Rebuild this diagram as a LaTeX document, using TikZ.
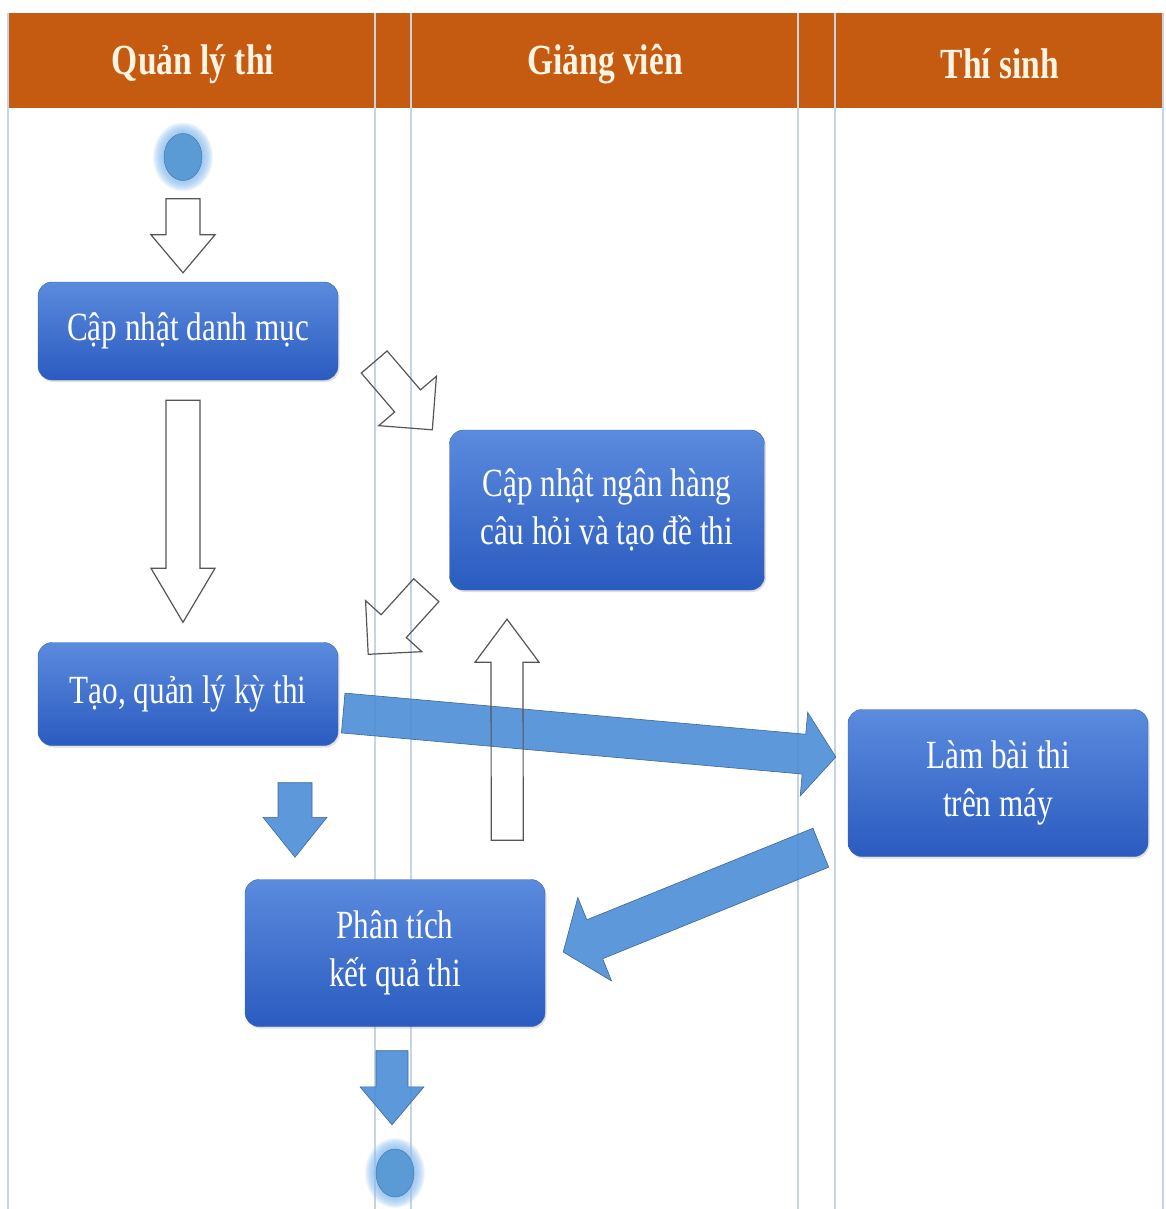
\documentclass[tikz,border=0pt]{standalone}
\usepackage{fontspec}
\setmainfont{Liberation Serif}[FakeStretch=0.78]
\usepackage{tikz}
\usetikzlibrary{calc,shapes.geometric,shadows}
\definecolor{hOrange}{HTML}{C55A11}
\definecolor{hText}{HTML}{FFF4E2}
\definecolor{laneL}{HTML}{C6D5E4}
\definecolor{boxTop}{HTML}{5B8BDD}
\definecolor{boxBot}{HTML}{2A5BC0}
\definecolor{boxEdge}{HTML}{3A62B0}
\definecolor{arrBlue}{HTML}{4C8ED6}
\definecolor{arrEdge}{HTML}{3B6797}
\definecolor{arrGrey}{HTML}{555555}
\definecolor{dotFill}{HTML}{5B9BD5}
\definecolor{dotEdge}{HTML}{41719C}
\definecolor{glowL}{HTML}{8DBFF2}
\tikzset{
  lanehead/.style={font=\fontsize{43}{48}\selectfont\bfseries, text=hText},
  actbox/.style={rounded corners=14pt, top color=boxTop, bottom color=boxBot,
                 draw=boxEdge, thin, text=white, align=center,
                 font=\fontsize{40}{48}\selectfont, minimum width=300pt,
                 inner sep=0pt,
                 drop shadow={opacity=0.25, shadow xshift=1.5pt, shadow yshift=-2pt}},
  termdot/.style={ellipse, minimum width=38pt, minimum height=47pt, inner sep=0pt,
                  fill=dotFill, draw=dotEdge, thin},
  hollow/.style={draw=arrGrey, line width=1.2pt, line join=miter},
  solidarr/.style={draw=arrEdge, fill=arrBlue, fill opacity=0.9, semithick, line join=miter},
}
% block arrow: [style]{tail}{tip}{half shaft}{half head}{head length}
\newcommand{\blockarrow}[6][]{%
  \coordinate (ba-n) at ($(#3)!#6!(#2)$);
  \draw[#1] ($(#2)!#4!90:(#3)$) -- ($(ba-n)!#4!90:(#3)$) -- ($(ba-n)!#5!90:(#3)$)
    -- (#3) -- ($(ba-n)!#5!-90:(#3)$) -- ($(ba-n)!#4!-90:(#3)$)
    -- ($(#2)!#4!-90:(#3)$) -- cycle;
}
\begin{document}
\begin{tikzpicture}[x=1pt, y=-1pt]
  \useasboundingbox[fill=white] (0,0) rectangle (1165,1209);
  % lanes
  \fill[hOrange] (8,13) rectangle (1163,108);
  \foreach \x in {8,375,411,798,835,1163}
    \draw[laneL, line width=1.2pt] (\x,13) -- (\x,1209);
  \node[lanehead] (hQuan) at (193,64) {Quản lý thi};
  \node[lanehead] (hGiang) at (605,64) {Giảng viên};
  \node[lanehead] (hThi) at (1000,64) {Thí sinh};

  % start / end
  \coordinate (startC) at (183,157);
  \coordinate (finishC) at (395,1173);
  \foreach \k in {1,...,11} {
    \fill[glowL, opacity=0.13] (startC) ellipse [x radius=19+\k, y radius=23.5+\k];
    \fill[glowL, opacity=0.13] (finishC) ellipse [x radius=19+\k, y radius=24+\k];
  }
  \node[termdot] (start) at (startC) {};
  \node[termdot, minimum height=48pt] (finish) at (finishC) {};

  % activities
  \node[actbox, minimum height=98pt] (catbox) at (188,331) {Cập nhật danh mục};
  \node[actbox, minimum width=315pt, minimum height=160pt] (bankbox) at (607,510)
    {Cập nhật ngân hàng\\câu hỏi và tạo đề thi};
  \node[actbox, minimum height=103pt] (exambox) at (188,694) {Tạo, quản lý kỳ thi};
  \node[actbox, minimum height=147pt] (dobox) at (998,783) {Làm bài thi\\trên máy};
  \node[actbox, minimum height=147pt] (anabox) at (395,953) {Phân tích\\kết quả thi};

  % arrow ends
  \coordinate (a1s) at ($(start.south)+(0,18)$);
  \coordinate (a1e) at ($(catbox.north)+(-5,-9)$);
  \coordinate (a2s) at ($(catbox.south)+(-5,20)$);
  \coordinate (a2e) at ($(exambox.north)+(-5,-20)$);
  \coordinate (a3s) at ($(catbox.east)+(36,31)$);
  \coordinate (a3e) at ($(bankbox.north west)+(-17,0)$);
  \coordinate (a4s) at ($(bankbox.south west)+(-23,0)$);
  \coordinate (a4e) at ($(exambox.north east)+(30,12)$);
  \coordinate (a5s) at ($(anabox.north east)+(-38,-39)$);
  \coordinate (a5e) at ($(bankbox.south)+(-100,29)$);
  \coordinate (a6s) at ($(exambox.east)+(5,19)$);
  \coordinate (a6e) at ($(dobox.west)+(-12,-26)$);
  \coordinate (a7s) at ($(dobox.south west)+(-27,-9)$);
  \coordinate (a7e) at ($(anabox.east)+(18,-1)$);
  \coordinate (a8s) at ($(exambox.south)+(107,37)$);
  \coordinate (a8e) at ($(anabox.north)+(-100,-22)$);
  \coordinate (a9s) at ($(anabox.south)+(-3,24)$);
  \coordinate (a9e) at ($(finish.north)+(-3,-24)$);

  % filled flows
  \blockarrow[solidarr]{a6s}{a6e}{20pt}{42pt}{32pt}
  \blockarrow[solidarr]{a7s}{a7e}{21pt}{45pt}{34pt}
  \blockarrow[solidarr]{a8s}{a8e}{17pt}{32pt}{40pt}
  \blockarrow[solidarr]{a9s}{a9e}{16pt}{32pt}{38pt}
  % outline flows
  \blockarrow[hollow]{a1s}{a1e}{17pt}{32pt}{38pt}
  \blockarrow[hollow]{a2s}{a2e}{17pt}{32pt}{54pt}
  \blockarrow[hollow]{a3s}{a3e}{17pt}{38pt}{38pt}
  \blockarrow[hollow]{a4s}{a4e}{17pt}{38pt}{38pt}
  \blockarrow[hollow]{a5s}{a5e}{16pt}{32pt}{43pt}
\end{tikzpicture}
\end{document}
